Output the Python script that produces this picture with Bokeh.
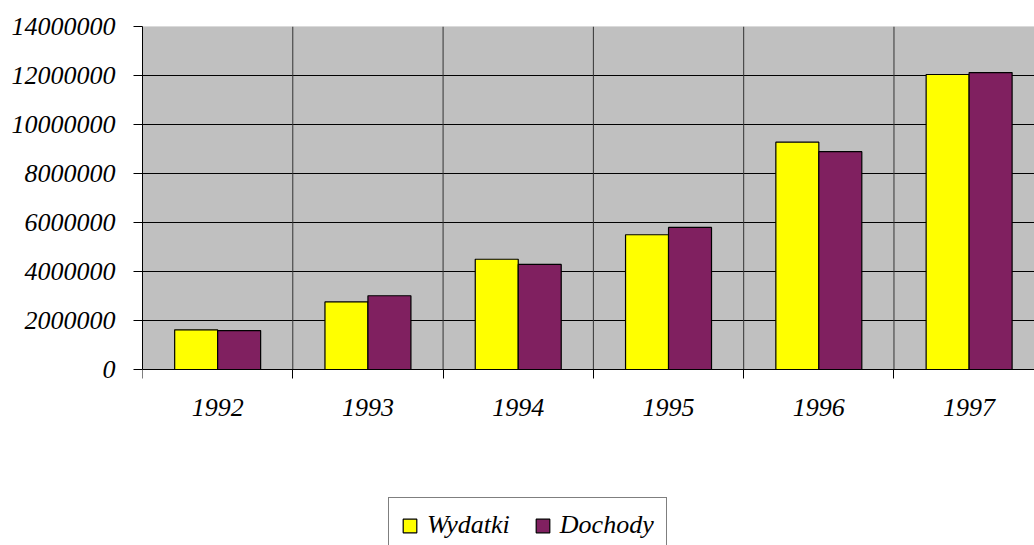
from bokeh.plotting import figure
from bokeh.models import (ColumnDataSource, FixedTicker, Range1d, Legend, LegendItem,
                          BoxAnnotation)
from bokeh.embed import file_html
from bokeh.resources import INLINE

years = ["1992", "1993", "1994", "1995", "1996", "1997"]
wydatki = [1620000, 2760000, 4500000, 5500000, 9280000, 12040000]
dochody = [1590000, 3010000, 4290000, 5800000, 8890000, 12120000]
y_ticks = [0, 2000000, 4000000, 6000000, 8000000, 10000000, 12000000, 14000000]
y_tick_labels = [str(v) for v in y_ticks]
series_names = ["Wydatki", "Dochody"]
series_colors = ["#FFFF00", "#802060"]

FONT = "'Liberation Serif', 'Times New Roman', serif"

centers = [i + 0.5 for i in range(len(years))]
bounds = [float(i) for i in range(len(years) + 1)]
bar_w = 0.286
x_end = 5.935
y_top = y_ticks[-1]
# plot area is 343px tall for 0..14M; 176px of space below it hold labels and legend
y_bottom = -176.0 / 343.0 * y_top

src = ColumnDataSource(dict(
    x1=[c - bar_w / 2 for c in centers],
    x2=[c + bar_w / 2 for c in centers],
    w=wydatki,
    d=dochody,
))

p = figure(width=1034, height=545, output_backend="svg", toolbar_location=None,
           x_range=Range1d(0, x_end), y_range=Range1d(y_bottom, y_top),
           min_border_left=142, min_border_right=0, min_border_top=26,
           min_border_bottom=0)
p.border_fill_color = "white"
p.background_fill_color = "white"
p.outline_line_color = None

bg = BoxAnnotation(left=0, right=x_end, bottom=0, top=y_top, fill_color="#C0C0C0",
                   fill_alpha=1, line_color="#666666", line_width=1, level="image")
p.add_layout(bg)

# vertical category separators inside the plot area only
inner = bounds[1:]
p.segment(x0=inner, y0=[y_ticks[0]] * len(inner), x1=inner, y1=[y_top] * len(inner),
          line_color="#333333", line_width=1)

r1 = p.vbar(x="x1", top="w", width=bar_w, source=src, fill_color=series_colors[0],
            line_color="black", line_width=1.2)
r2 = p.vbar(x="x2", top="d", width=bar_w, source=src, fill_color=series_colors[1],
            line_color="black", line_width=1.2)

# x axis, drawn at value 0
xa = p.xaxis[0]
xa.fixed_location = 0
xa.ticker = FixedTicker(ticks=centers, minor_ticks=bounds)
xa.major_label_overrides = {c: y for c, y in zip(centers, years)}
xa.major_tick_out = 0
xa.major_tick_in = 0
xa.minor_tick_out = 9
xa.minor_tick_in = 0
xa.minor_tick_line_color = "black"
xa.axis_line_color = "black"
xa.major_label_text_font = FONT
xa.major_label_text_font_style = "italic"
xa.major_label_text_font_size = "26px"
xa.major_label_text_color = "black"
xa.major_label_standoff = 20

# y axis
ya = p.yaxis[0]
ya.bounds = (0, y_top)
ya.ticker = FixedTicker(ticks=y_ticks, minor_ticks=[])
ya.major_label_overrides = {t: l for t, l in zip(y_ticks, y_tick_labels)}
ya.major_tick_out = 9
ya.major_tick_in = 0
ya.major_tick_line_color = "black"
ya.axis_line_color = "black"
ya.major_label_text_font = FONT
ya.major_label_text_font_style = "italic"
ya.major_label_text_font_size = "26px"
ya.major_label_text_color = "black"
ya.major_label_standoff = 18

p.xgrid.visible = False
p.ygrid.ticker = FixedTicker(ticks=y_ticks[1:-1])
p.ygrid.grid_line_color = "black"
p.ygrid.grid_line_width = 1

legend = Legend(items=[LegendItem(label=series_names[0], renderers=[r1]),
                       LegendItem(label=series_names[1], renderers=[r2])],
                location=(246, -8), orientation="horizontal")
legend.label_text_font = FONT
legend.label_text_font_style = "italic"
legend.label_text_font_size = "26px"
legend.label_text_color = "black"
legend.glyph_width = 17
legend.glyph_height = 17
legend.label_standoff = 9
legend.spacing = 24
legend.padding = 12
legend.margin = 0
legend.border_line_color = "black"
legend.border_line_width = 1
legend.background_fill_color = "white"
legend.background_fill_alpha = 1
p.add_layout(legend, "center")

open("out.html", "w").write(file_html(p, INLINE))
